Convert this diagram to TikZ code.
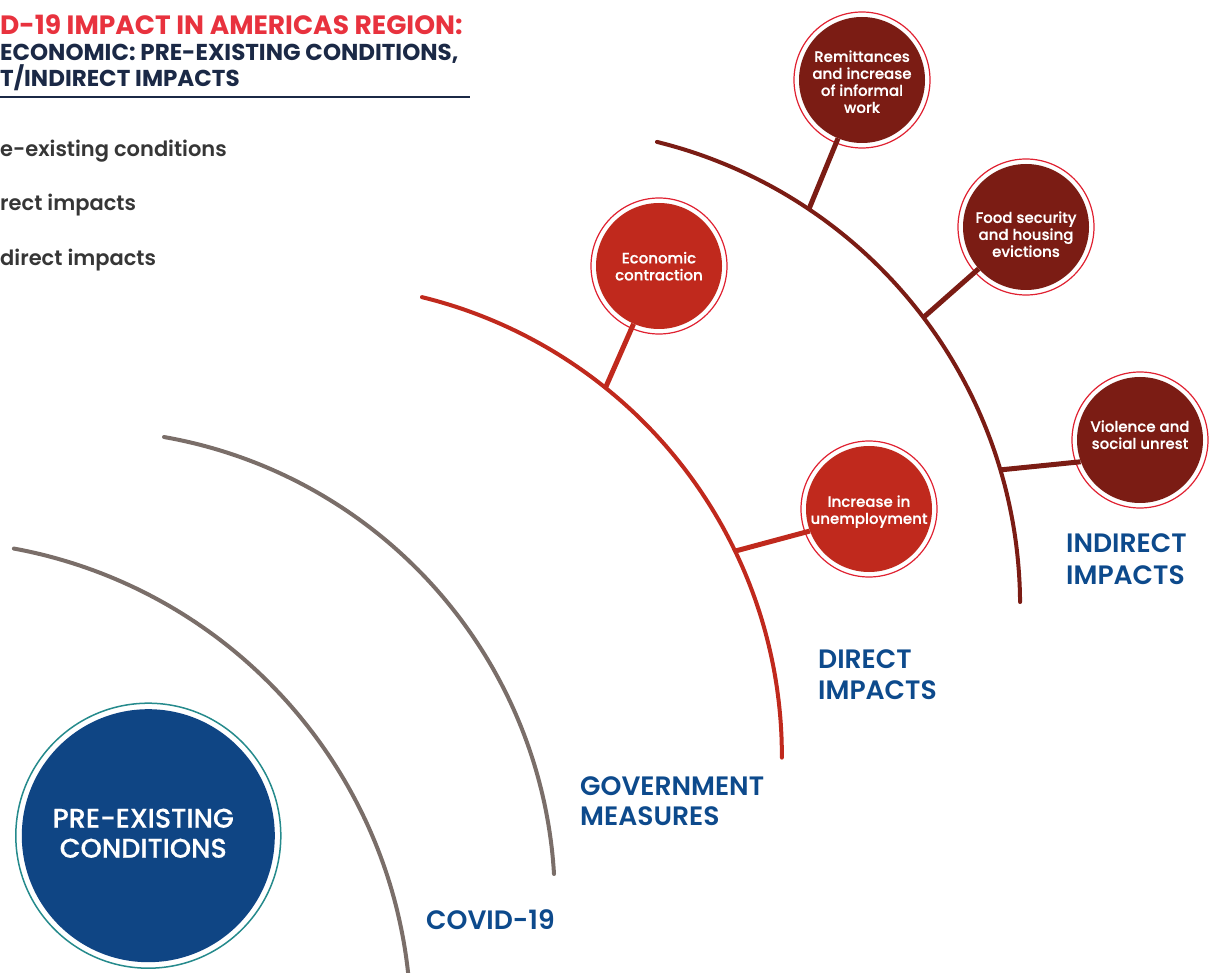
\documentclass[tikz,border=0pt]{standalone}
\usepackage{fontspec}
\setmainfont{Poppins}
\IfFontExistsTF{Poppins Medium}{\newfontfamily\fmed{Poppins Medium}[FakeBold=0.5]}{\newfontfamily\fmed{Poppins}[FakeBold=1]}
\IfFontExistsTF{Poppins SemiBold}{\newfontfamily\fsemi{Poppins SemiBold}}{\newfontfamily\fsemi{Poppins}[FakeBold=1.5]}
\IfFontExistsTF{Poppins Bold}{\newfontfamily\fbold{Poppins Bold}}{\newfontfamily\fbold{Poppins}[FakeBold=2.5]}
\definecolor{arcgray}{HTML}{7A6E69}
\definecolor{dirred}{HTML}{C0291D}
\definecolor{indred}{HTML}{7B1C14}
\definecolor{ringred}{HTML}{E02131}
\definecolor{lblblue}{HTML}{0D4A8C}
\definecolor{navyfill}{HTML}{0F4584}
\definecolor{tealring}{HTML}{258A8C}
\definecolor{titlered}{HTML}{E8323E}
\definecolor{titlenavy}{HTML}{1B2946}
\definecolor{leggray}{HTML}{363636}
\newcommand\btxt[2]{\raisebox{#1}[\height][\depth]{\begin{tabular}{@{}c@{}}#2\end{tabular}}}
\begin{document}
\begin{tikzpicture}[x=1pt,y=-1pt,
  garc/.style={draw=arcgray, line width=4pt, line cap=round, line join=round},
  darc/.style={draw=dirred, line width=4pt, line cap=round, line join=round},
  iarc/.style={draw=indred, line width=4pt, line cap=round, line join=round},
  dconn/.style={draw=dirred, line width=5pt, shorten >=-5.5pt},
  iconn/.style={draw=indred, line width=5pt, shorten >=-5.5pt},
  bubble/.style={circle, minimum size=136pt, inner sep=0pt, draw=ringred, line width=1.2pt,
    fill=white, text=white, font=\fmed\fontsize{15}{17}\selectfont,
    path picture={\fill[#1] (path picture bounding box.center) circle[radius=63pt];}},
  lbl/.style={anchor=base west, inner sep=0pt, text=lblblue, font=\fsemi\fontsize{26.6}{30}\selectfont},
  ttlA/.style={anchor=base west, inner sep=0pt, text=titlered, font=\fbold\fontsize{26.5}{30}\selectfont},
  ttlB/.style={anchor=base west, inner sep=0pt, text=titlenavy, font=\fbold\fontsize{23}{26}\selectfont},
  leg/.style={anchor=base west, inner sep=0pt, text=leggray, font=\fsemi\fontsize{21}{25}\selectfont}
]
\useasboundingbox (0,0) rectangle (1211,973);
\clip (0,0) rectangle (1211,973);

% title
\node[ttlA] (t1) at (0,35) {D-19 IMPACT IN AMERICAS REGION:};
\node[ttlB] (t2) at (0,61) {ECONOMIC: PRE-EXISTING CONDITIONS,};
\node[ttlB] (t3) at (0,87) {T/INDIRECT IMPACTS};
\coordinate (ulA) at (0,97);
\coordinate (ulB) at (470,97);
\draw[titlenavy, line width=2pt] (ulA) -- (ulB);

% legend
\node[leg] (l1) at (0,157) {e-existing conditions};
\node[leg] (l2) at (0,211) {rect impacts};
\node[leg] (l3) at (0,266) {direct impacts};

% arcs
\draw[garc] plot[domain=-79.56:0, samples=90] ({-74+485*cos(\x)},{1025.5+485*sin(\x)});
\draw[garc] plot[domain=-80.05:-3.45, samples=90] ({82.4+472.5*cos(\x)},{902.4+472.5*sin(\x)});
\draw[darc] plot[domain=-76.22:0.2, samples=90] ({309.4+472.5*cos(\x)},{756+472.5*sin(\x)});
\draw[iarc] plot[domain=-76.14:-0.42, samples=90] ({542.6+477.5*cos(\x)},{605.5+477.5*sin(\x)});

% junctions on arcs
\coordinate (jE) at ({309.4+472.5*cos(-51.2)},{756+472.5*sin(-51.2)});
\coordinate (jU) at ({309.4+472.5*cos(-25.7)},{756+472.5*sin(-25.7)});
\coordinate (jR) at ({542.6+477.5*cos(-56.1)},{605.5+477.5*sin(-56.1)});
\coordinate (jF) at ({542.6+477.5*cos(-37.1)},{605.5+477.5*sin(-37.1)});
\coordinate (jV) at ({542.6+477.5*cos(-16.5)},{605.5+477.5*sin(-16.5)});

% pre-existing circle
\node[circle, minimum size=265pt, inner sep=0pt, draw=tealring, line width=1.5pt, fill=white,
  path picture={\fill[navyfill] (path picture bounding box.center) circle[radius=126.5pt];},
  text=white, font=\fmed\fontsize{27}{30}\selectfont] (pre) at (148.3,835.7)
  {\hspace*{-10pt}\btxt{-1pt}{PRE-EXISTING\\CONDITIONS}};

% bubbles
\node[bubble=indred] (remit) at (862,80) {\btxt{-4pt}{Remittances\\and increase\\of informal\\work}};
\node[bubble=indred] (food) at (1026,227) {\btxt{-9.5pt}{Food security\\and housing\\evictions}};
\node[bubble=indred] (viol) at (1140,440) {\btxt{3pt}{Violence and\\social unrest}};
\node[bubble=dirred] (econ) at (659,266) {\btxt{-2.5pt}{Economic\\contraction}};
\node[bubble=dirred] (unemp) at (869,509) {\btxt{-3pt}{Increase in\\unemployment}};

% connectors
\draw[iconn] (jR) -- (remit);
\draw[iconn] (jF) -- (food);
\draw[iconn] (jV) -- (viol.199);
\draw[dconn] (jE) -- (econ);
\draw[dconn] (jU) -- (unemp.200);

% labels
\node[lbl] (cov) at (426,929) {COVID-19};
\node[lbl] (gov1) at (580,795) {GOVERNMENT};
\node[lbl] (gov2) at (580,825) {MEASURES};
\node[lbl] (dir1) at (818,668) {DIRECT};
\node[lbl] (dir2) at (818,699) {IMPACTS};
\node[lbl] (ind1) at (1066,552) {INDIRECT};
\node[lbl] (ind2) at (1066,584) {IMPACTS};
\end{tikzpicture}
\end{document}
